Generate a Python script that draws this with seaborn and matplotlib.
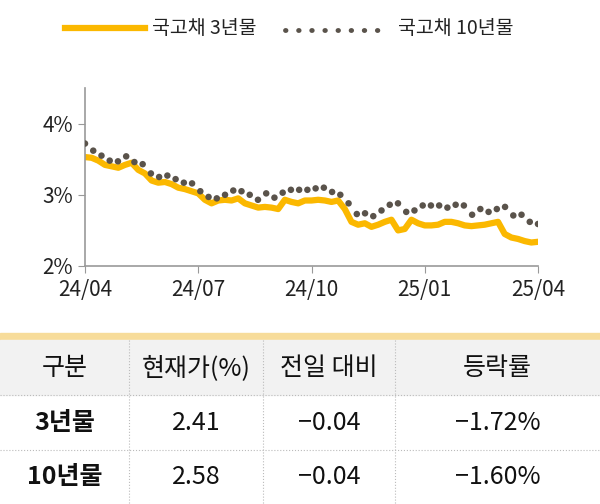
import numpy as np
import matplotlib
matplotlib.use("Agg")
import matplotlib.pyplot as plt
import seaborn as sns
import pandas as pd
from matplotlib.patches import Rectangle
from matplotlib.lines import Line2D
from matplotlib import font_manager as fm

names = {f.name for f in fm.fontManager.ttflist}
cjk = [n for n in ["Noto Sans CJK KR", "Noto Sans CJK JP", "Noto Sans CJK SC", "Noto Sans CJK TC"] if n in names]
plt.rcParams["font.family"] = cjk + ["DejaVu Sans"]

y3 = [3.53,3.52,3.48,3.42,3.40,3.38,3.42,3.45,3.35,3.30,3.20,3.17,3.18,3.15,3.10,3.08,3.05,3.02,2.93,2.88,
      2.92,2.93,2.92,2.95,2.88,2.85,2.82,2.83,2.82,2.80,2.93,2.90,2.88,2.92,2.92,2.93,2.92,2.90,2.92,2.80,
      2.62,2.58,2.60,2.55,2.58,2.62,2.65,2.50,2.52,2.65,2.60,2.57,2.57,2.58,2.62,2.62,2.60,2.57,2.56,2.57,
      2.58,2.60,2.62,2.45,2.40,2.38,2.35,2.33,2.34]
y10 = [3.72,3.62,3.55,3.48,3.47,3.54,3.46,3.43,3.30,3.25,3.27,3.22,3.17,3.16,3.05,2.97,2.95,3.00,3.06,3.05,
       3.00,2.93,3.02,2.96,3.03,3.07,3.07,3.07,3.09,3.10,3.04,3.00,2.88,2.73,2.74,2.70,2.78,2.86,2.88,2.76,
       2.78,2.85,2.85,2.85,2.82,2.86,2.85,2.72,2.80,2.76,2.80,2.83,2.71,2.72,2.62,2.59]
xticks = ["24/04", "24/07", "24/10", "25/01", "25/04"]
yticks = [2, 3, 4]
headers = ["구분", "현재가(%)", "전일 대비", "등락률"]
rows = [["3년물", "2.41", "-0.04", "-1.72%"], ["10년물", "2.58", "-0.04", "-1.60%"]]

d3 = pd.DataFrame({"x": np.linspace(0, 4, len(y3)), "y": y3})
d10 = pd.DataFrame({"x": np.linspace(0, 4, len(y10)), "y": y10})

fig = plt.figure(figsize=(6, 5.04), dpi=100)
ax = fig.add_axes([85/600, 1-266/504, (538-85)/600, (266-88)/504])
YEL = "#fbb800"; GR = "#5a534b"
sns.lineplot(data=d3, x="x", y="y", ax=ax, color=YEL, lw=4.5)
sns.scatterplot(data=d10, x="x", y="y", ax=ax, color=GR, s=22, edgecolor="none", zorder=3)
ax.set_xlim(0, 4); ax.set_ylim(2, 4.5)
ax.set_xticks(range(5)); ax.set_xticklabels(xticks)
ax.set_yticks(yticks); ax.set_yticklabels([f"{v}%" for v in yticks])
ax.set_xlabel(""); ax.set_ylabel("")
for s in ["top", "right"]:
    ax.spines[s].set_visible(False)
for s in ["left", "bottom"]:
    ax.spines[s].set_color("#999999"); ax.spines[s].set_linewidth(1.2)
ax.tick_params(colors="#999999", labelcolor="#222222", labelsize=15, length=5)
ax.tick_params(axis="x", pad=4)

# legend
fig.add_artist(Line2D([65/600, 145/600], [1-28/504]*2, color=YEL, lw=4.5))
fig.text(152/600, 1-28/504, "국고채 3년물", fontsize=14, va="center", color="#222")
fig.add_artist(Line2D([285/600, 385/600], [1-30/504]*2, color=GR, lw=3.5,
                      linestyle=(0, (0.1, 2.6)), dash_capstyle="round"))
fig.text(398/600, 1-28/504, "국고채 10년물", fontsize=14, va="center", color="#222")

# table
H = 504
fig.add_artist(Rectangle((0, 1-340/H), 1, 7/H, color="#f7dc9a", transform=fig.transFigure))
fig.add_artist(Rectangle((0, 1-395/H), 1, 55/H, color="#f2f2f2", transform=fig.transFigure))
colx = [0, 129, 263, 395, 600]
rowy = [340, 395, 450, 504]
for cx in colx[1:-1]:
    fig.add_artist(Line2D([cx/600]*2, [1-340/H, 0], color="#bbbbbb", lw=0.8, linestyle=":"))
for ry in rowy[1:-1]:
    fig.add_artist(Line2D([0, 1], [1-ry/H]*2, color="#bbbbbb", lw=0.8, linestyle=":"))
centers = [(colx[i]+colx[i+1])/2 for i in range(4)]
for i, h in enumerate(headers):
    fig.text(centers[i]/600, 1-368/H, h, fontsize=18, ha="center", va="center", color="#111")
for r, row in enumerate(rows):
    yc = (rowy[r+1]+rowy[r+2])/2
    for i, v in enumerate(row):
        fig.text(centers[i]/600, 1-yc/H, v.replace("-", "−"), fontsize=18, ha="center", va="center",
                 color="#111", fontweight="bold" if i == 0 else "normal")

fig.savefig("out.png", dpi=100)
